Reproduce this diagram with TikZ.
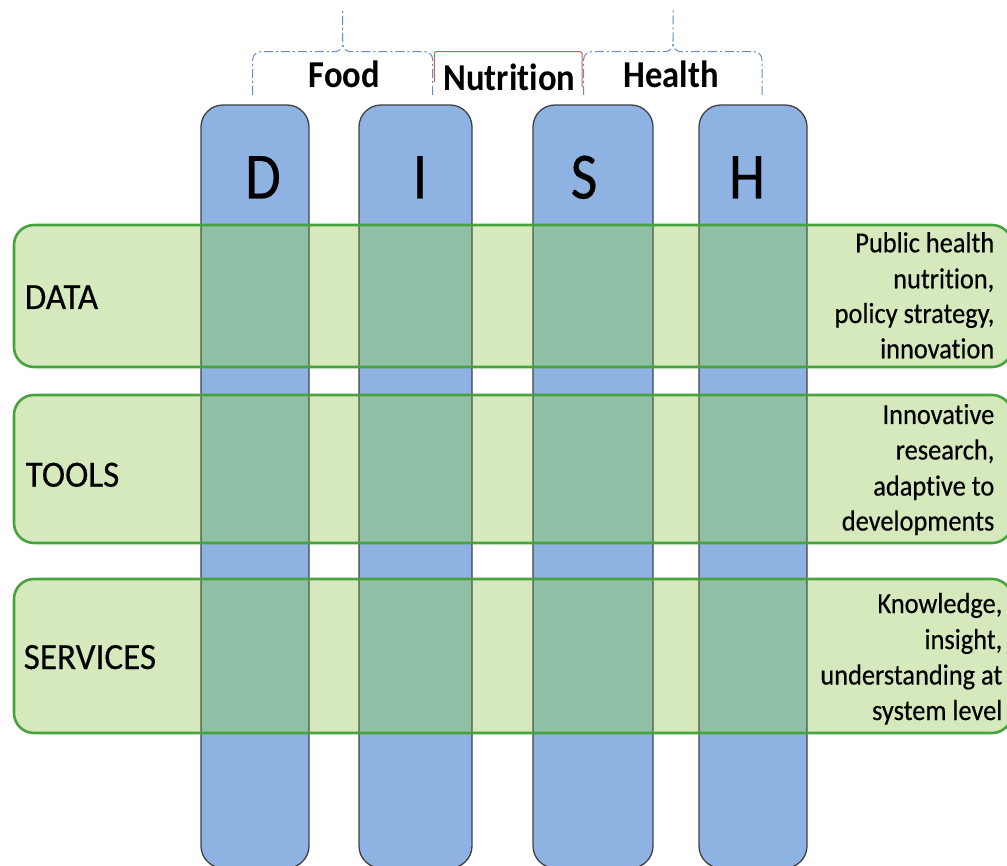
\documentclass[tikz,border=0pt]{standalone}
\usepackage{fontspec}
\setmainfont{Carlito}[FakeStretch=0.88, Ligatures=NoCommon]
\newfontfamily\letterfont{Carlito}[FakeStretch=0.88, FakeBold=0.3, Ligatures=NoCommon]
\newfontfamily\rowfont{Carlito}[FakeStretch=0.95, FakeBold=0.4, Ligatures=NoCommon]
\newfontfamily\descfont{Carlito}[FakeStretch=0.91, FakeBold=0.4, Ligatures=NoCommon]
\newfontfamily\topfont{Carlito}[FakeStretch=0.91, BoldFont={Carlito Bold}, BoldFeatures={FakeStretch=0.91, Ligatures=NoCommon}, Ligatures=NoCommon]
\definecolor{colblue}{RGB}{142,179,226}
\definecolor{rowgreen}{RGB}{214,233,189}
\definecolor{overlapc}{RGB}{143,191,165}
\definecolor{rowline}{RGB}{72,163,62}
\definecolor{colline}{RGB}{64,64,64}
\definecolor{collinein}{RGB}{72,92,66}
\definecolor{braceblue}{RGB}{100,140,200}
\definecolor{bracered}{RGB}{205,90,90}
\tikzset{
  colshape/.style={fill=colblue, draw=colline, line width=1.3pt, rounded corners=22pt},
  coloverlap/.style={fill=overlapc, draw=collinein, line width=1.3pt, rounded corners=22pt},
  rowfill/.style={fill=rowgreen, rounded corners=20pt},
  rowborder/.style={draw=rowline, line width=2.6pt, rounded corners=20pt},
  letterlbl/.style={font=\letterfont\fontsize{66}{70}\selectfont, inner sep=0pt, anchor=base},
  rowlbl/.style={font=\rowfont\fontsize{37}{42}\selectfont, inner sep=0pt, anchor=base west},
  desclbl/.style={font=\descfont\fontsize{29}{35}\selectfont, inner sep=0pt, anchor=base east},
  toplbl/.style={font=\topfont\bfseries\fontsize{38}{42}\selectfont, inner sep=0pt, anchor=base},
  bracestyle/.style={draw=braceblue, line width=1pt, dash pattern=on 9pt off 3pt on 2pt off 3pt, rounded corners=8pt},
  nutribracket/.style={draw=bracered, line width=1pt, rounded corners=2pt}
}
\begin{document}
\begin{tikzpicture}[x=1pt,y=-1pt]
\useasboundingbox (0,0) rectangle (1007,866);
\clip (0,0) rectangle (1007,866);
\def\cols{201/309/D/263, 359/472/I/420, 533/653/S/584, 699/807/H/747}
% columns
\foreach \a/\b/\n/\c in \cols {
  \draw[colshape] (\a,105) rectangle (\b,868);
  \node[letterlbl] (L\n) at (\c,198.5) {\n};
}
% rows
\foreach \t/\bt in {225/367, 395/543, 579/733} {
  \path[rowfill] (14,\t) rectangle (1012,\bt);
  \begin{scope}
    \clip[rounded corners=20pt] (14,\t) rectangle (1012,\bt);
    \foreach \a/\b/\n/\c in \cols {
      \draw[coloverlap] (\a,105) rectangle (\b,868);
    }
  \end{scope}
  \path[rowborder] (14,\t) rectangle (1012,\bt);
}
% row labels
\node[rowlbl] (tdata) at (24.5,309) {DATA};
\node[rowlbl] (ttools) at (25.5,486.7) {TOOLS};
\node[rowlbl] (tserv) at (23.5,669) {SERVICES};
% descriptions
\node[desclbl] (d1a) at (994.5,252.3) {Public health};
\node[desclbl] (d1b) at (994.5,288.3) {nutrition,};
\node[desclbl] (d1c) at (994.5,323) {policy strategy,};
\node[desclbl] (d1d) at (994.5,358.3) {innovation};
\node[desclbl] (d2a) at (994.5,424) {Innovative};
\node[desclbl] (d2b) at (994.5,459.5) {research,};
\node[desclbl] (d2c) at (994.5,495.5) {adaptive to};
\node[desclbl] (d2d) at (994.5,530.5) {developments};
\node[desclbl] (d3a) at (1002.5,613) {Knowledge,};
\node[desclbl] (d3b) at (1002.5,649) {insight,};
\node[desclbl] (d3c) at (1002.5,684.5) {understanding at};
\node[desclbl] (d3d) at (1002.5,720) {system level};
% braces
\path[bracestyle] (252.7,95) -- (252.7,51.7) -- (342.7,51.7) -- (342.7,8.3);
\path[bracestyle] (432.7,95) -- (432.7,51.7) -- (342.7,51.7) -- (342.7,40);
\path[bracestyle] (583.6,95) -- (583.6,51.7) -- (673,51.7) -- (673,8.3);
\path[bracestyle] (762,95) -- (762,51.7) -- (673,51.7) -- (673,40);
\path[nutribracket] (434.3,82) -- (434.3,51.7) -- (582,51.7) -- (582,87);
% top labels
\node[toplbl] (food) at (344.3,87.3) {Food};
\node[toplbl] (nutri) at (509.5,90.7) {Nutrition};
\node[toplbl] (health) at (671,87.3) {Health};
\end{tikzpicture}
\end{document}
